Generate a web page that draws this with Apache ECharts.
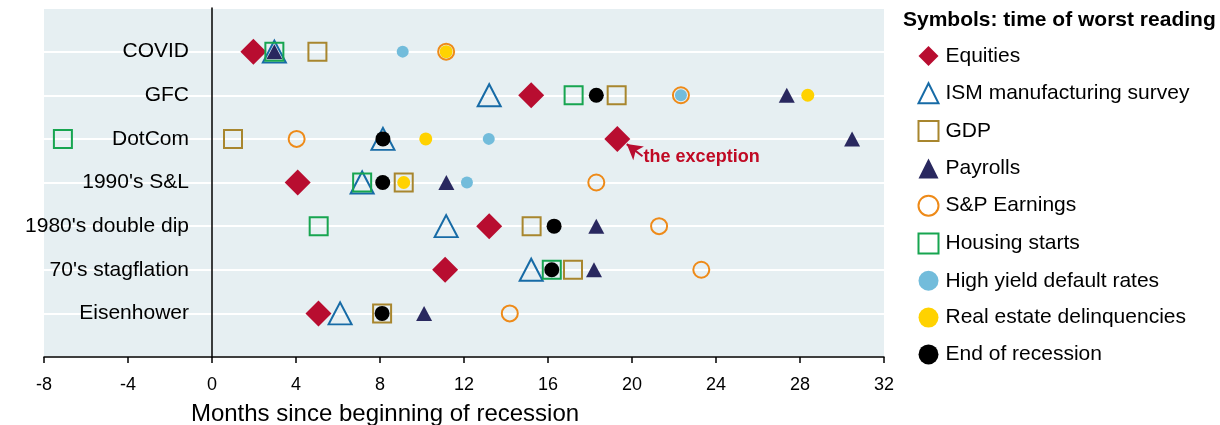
<!DOCTYPE html>
<html>
<head>
<meta charset="utf-8">
<script src="https://cdn.jsdelivr.net/npm/echarts@6/dist/echarts.min.js"></script>
<style>
html,body{margin:0;padding:0;background:#fff;}
#chart{width:1220px;height:425px;}
</style>
</head>
<body>
<div id="chart"></div>
<script>
// Categories (top to bottom)
const categories = ['COVID', 'GFC', 'DotCom', "1990's S&L", "1980's double dip", "70's stagflation", 'Eisenhower'];
// x tick values
const xTicks = { min: -8, max: 32, step: 4 };
// Months since beginning of recession, per category (null = not shown)
const equities      = [1.97, 15.2, 19.3, 4.08, 13.2, 11.1, 5.07];
const ismSurvey     = [2.97, 13.2, 8.14, 7.15, 11.15, 15.2, 6.1];
const gdp           = [5.02, 19.27, 1.0, 9.13, 15.22, 17.19, 8.1];
const payrolls      = [2.97, 27.37, 30.48, 11.16, 18.3, 18.19, 10.1];
const spEarnings    = [11.15, 22.33, 4.03, 18.3, 21.29, 23.3, 14.18];
const housingStarts = [2.97, 17.22, -7.1, 7.15, 5.08, 16.18, null];
const hyDefault     = [9.08, 22.33, 13.18, 12.14, null, null, null];
const reDelinq      = [11.15, 28.37, 10.18, 9.13, null, null, null];
const endRecession  = [null, 18.3, 8.14, 8.13, 16.29, 16.18, 8.1];

const FONT = 'Liberation Sans, Arial, Helvetica, sans-serif';
const n = categories.length;
function pts(arr) {
  const out = [];
  arr.forEach((v, i) => { if (v !== null) out.push([v, n - i]); });
  return out;
}

const specs = [
  { name: 'Equities', data: equities, symbol: 'diamond', size: 26, fill: '#B80D30', border: null },
  { name: 'ISM manufacturing survey', data: ismSurvey, symbol: 'triangle', size: [23, 22], fill: 'none', border: '#176BA6' },
  { name: 'GDP', data: gdp, symbol: 'rect', size: 18, fill: 'none', border: '#A8862E' },
  { name: 'Payrolls', data: payrolls, symbol: 'triangle', size: [16, 15], fill: '#29285F', border: null },
  { name: 'S&P Earnings', data: spEarnings, symbol: 'circle', size: 16, fill: 'none', border: '#EE8A18' },
  { name: 'Housing starts', data: housingStarts, symbol: 'rect', size: 18, fill: 'none', border: '#17A550' },
  { name: 'High yield default rates', data: hyDefault, symbol: 'circle', size: 12, fill: '#72BCDB', border: null },
  { name: 'Real estate delinquencies', data: reDelinq, symbol: 'circle', size: 13, fill: '#FFD200', border: null },
  { name: 'End of recession', data: endRecession, symbol: 'circle', size: 15, fill: '#000000', border: null }
];

const series = specs.map(s => {
  const itemStyle = s.border
    ? { color: 'none', borderColor: s.border, borderWidth: 2, opacity: 1 }
    : { color: s.fill, borderWidth: 0, opacity: 1 };
  return {
    name: s.name,
    type: 'scatter',
    symbol: s.symbol,
    symbolSize: s.size,
    data: pts(s.data),
    itemStyle: itemStyle,
    emphasis: { disabled: true },
    z: 3
  };
});

// annotation on the DotCom equities point
series[0].markLine = {
  silent: true,
  symbol: ['none', 'arrow'],
  symbolSize: [13, 15],
  lineStyle: { color: '#B80D30', width: 2, type: 'solid', opacity: 1 },
  label: { show: false },
  data: [[{ coord: [20.5, 4.6] }, { coord: [19.75, 4.88] }]]
};
series[0].markPoint = {
  silent: true,
  symbol: 'circle',
  symbolSize: 0.1,
  data: [{
    coord: [20.55, 4.58],
    label: {
      show: true, position: 'right', distance: 0,
      formatter: 'the exception',
      color: '#C00A24', fontFamily: FONT, fontWeight: 'bold', fontSize: 18
    }
  }]
};

const chart = echarts.init(document.getElementById('chart'), null, { renderer: 'canvas' });
chart.setOption({
  animation: false,
  backgroundColor: '#ffffff',
  title: {
    text: 'Symbols: time of worst reading',
    left: 898, top: 5,
    textStyle: { fontFamily: FONT, fontWeight: 'bold', fontSize: 21, color: '#000' }
  },
  legend: {
    orient: 'vertical',
    left: 911, top: 39,
    itemWidth: 20, itemHeight: 20,
    itemGap: 12.8,
    selectedMode: false,
    textStyle: { fontFamily: FONT, fontSize: 21, color: '#000', padding: [0, 0, 0, 2], lineHeight: 24 },
    data: specs.map(s => s.name)
  },
  grid: {
    left: 44, right: 336, top: 8, bottom: 68,
    containLabel: false,
    outerBoundsMode: 'none',
    show: true, backgroundColor: '#E6EFF2', borderWidth: 0
  },
  xAxis: {
    type: 'value',
    min: xTicks.min, max: xTicks.max, interval: xTicks.step,
    name: 'Months since beginning of recession',
    nameLocation: 'middle',
    nameGap: 45,
    nameTextStyle: { fontFamily: FONT, fontSize: 24, color: '#000', padding: [0, 158, 0, 0] },
    axisLine: { show: true, onZero: false, lineStyle: { color: '#000', width: 1.5 } },
    axisTick: { show: true, length: 6, lineStyle: { color: '#000', width: 1.5 } },
    axisLabel: { fontFamily: FONT, fontSize: 18, color: '#000', margin: 19 },
    splitLine: { show: false }
  },
  yAxis: {
    type: 'value',
    min: 0, max: n + 1, interval: 1,
    axisLine: { show: true, onZero: true, lineStyle: { color: '#000', width: 1.5 } },
    axisTick: { show: false },
    axisLabel: {
      fontFamily: FONT, fontSize: 21, color: '#000', margin: -145, padding: [3, 0, 0, 0],
      formatter: v => { const c = categories[n - v]; return c === undefined ? '' : c; }
    },
    splitLine: { show: true, lineStyle: { color: '#ffffff', width: 2 } }
  },
  series: series
});
</script>
</body>
</html>
